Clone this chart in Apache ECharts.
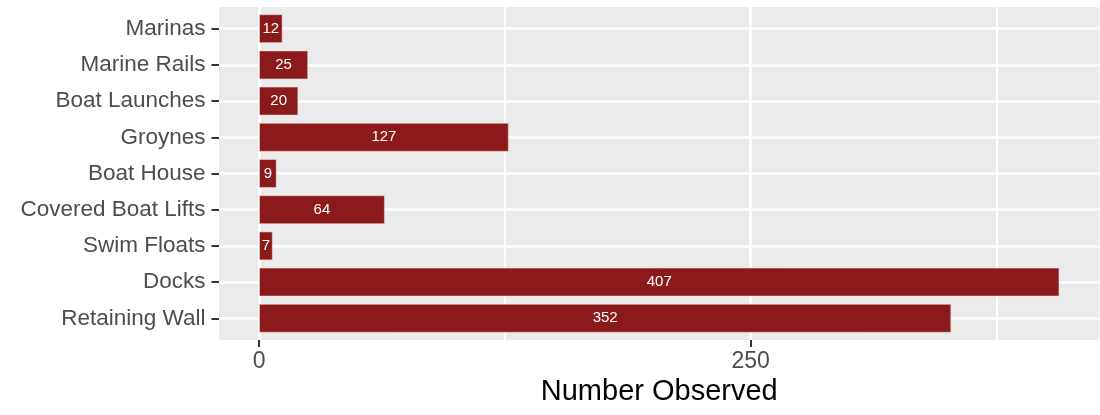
<!DOCTYPE html>
<html>
<head>
<meta charset="utf-8">
<script src="https://cdn.jsdelivr.net/npm/echarts@6/dist/echarts.min.js"></script>
<style>
  html, body { margin: 0; padding: 0; background: #ffffff; }
  #chart { width: 1100px; height: 415px; }
</style>
</head>
<body>
<div id="chart"></div>
<script>
const categories = ['Marinas', 'Marine Rails', 'Boat Launches', 'Groynes', 'Boat House', 'Covered Boat Lifts', 'Swim Floats', 'Docks', 'Retaining Wall'];
const counts = [12, 25, 20, 127, 9, 64, 7, 407, 352];
const xTickValues = [0, 250];
const xMajorGrid = [0, 250];
const xMinorGrid = [125, 375];
const xMin = -20.35;
const xMax = 427.35;

const FONT = '"Liberation Sans", Arial, Helvetica, sans-serif';
const chart = echarts.init(document.getElementById('chart'), null, { renderer: 'canvas' });

const vLines = xMajorGrid.map(v => ({ xAxis: v, lineStyle: { width: 2.7 } }))
  .concat(xMinorGrid.map(v => ({ xAxis: v, lineStyle: { width: 2.0 } })));
const hLines = categories.map(c => ({ yAxis: c }));

chart.setOption({
  animation: false,
  backgroundColor: '#ffffff',
  grid: [
    { left: 219, right: 0.5, top: 7, height: 333, show: true, backgroundColor: '#EBEBEB', borderWidth: 0, containLabel: false, z: 0 },
    { left: 219, right: 0.5, top: 10.6, height: 325.8, show: false, containLabel: false }
  ],
  xAxis: [
    {
      gridIndex: 0, type: 'value', min: xMin, max: xMax,
      axisLine: { show: false, onZero: false },
      axisTick: { show: true, customValues: xTickValues, length: 7, lineStyle: { color: '#333333', width: 2 } },
      axisLabel: { show: true, customValues: xTickValues, color: '#4D4D4D', fontSize: 23, fontFamily: FONT, margin: 10 },
      splitLine: { show: false },
      name: 'Number Observed', nameLocation: 'middle', nameGap: 28,
      nameTextStyle: { color: '#000000', fontSize: 29, fontFamily: FONT }
    },
    {
      gridIndex: 1, type: 'value', min: xMin, max: xMax, show: false,
      axisLine: { onZero: false },
      splitLine: { show: false }
    }
  ],
  yAxis: [
    { gridIndex: 0, type: 'value', min: 0, max: 1, show: false, axisLine: { onZero: false }, splitLine: { show: false } },
    {
      gridIndex: 1, type: 'category', data: categories, inverse: true,
      axisLine: { show: false, onZero: false },
      axisTick: { show: true, alignWithLabel: true, length: 7.5, lineStyle: { color: '#333333', width: 2 } },
      axisLabel: { color: '#4D4D4D', fontSize: 22.5, fontFamily: FONT, margin: 13.5 },
      splitLine: { show: false }
    }
  ],
  series: [
    {
      type: 'scatter', xAxisIndex: 0, yAxisIndex: 0, data: [], z: 1, silent: true,
      markLine: {
        z: 1, silent: true, symbol: ['none', 'none'], label: { show: false },
        lineStyle: { color: '#ffffff', type: 'solid', width: 2.7 },
        emphasis: { disabled: true },
        data: vLines
      }
    },
    {
      type: 'scatter', xAxisIndex: 1, yAxisIndex: 1, data: [], z: 1, silent: true,
      markLine: {
        z: 1, silent: true, symbol: ['none', 'none'], label: { show: false },
        lineStyle: { color: '#ffffff', type: 'solid', width: 2.7 },
        emphasis: { disabled: true },
        data: hLines
      }
    },
    {
      type: 'bar', xAxisIndex: 1, yAxisIndex: 1, data: counts, z: 3,
      barWidth: '80%',
      itemStyle: { color: '#8B1A1A', borderColor: 'rgba(245,215,215,0.55)', borderWidth: 1 },
      label: { show: true, position: 'inside', color: '#ffffff', fontSize: 15, fontFamily: FONT },
      emphasis: { disabled: true }
    }
  ]
});
</script>
</body>
</html>
